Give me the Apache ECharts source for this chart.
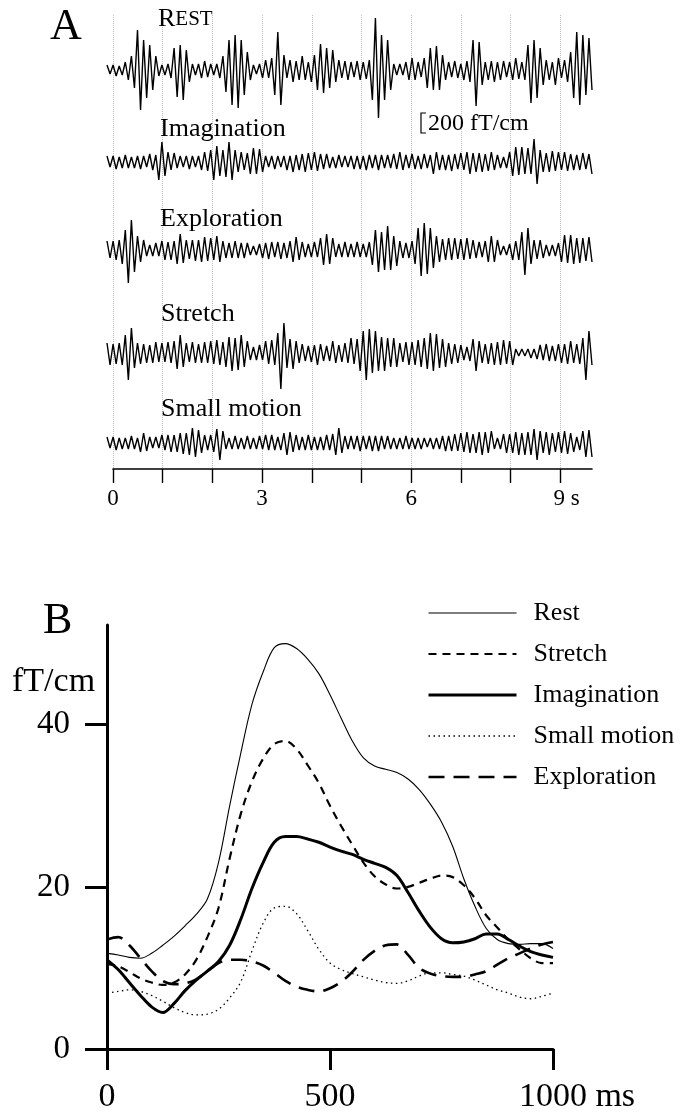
<!DOCTYPE html>
<html>
<head>
<meta charset="utf-8">
<script src="https://cdn.jsdelivr.net/npm/echarts@6.0.0/dist/echarts.min.js"></script>
<style>
  html, body { margin: 0; padding: 0; background: #fff; }
  #chart { width: 689px; height: 1113px; }
</style>
</head>
<body>
<div id="chart"></div>
<script>
const FONT = '"Liberation Serif", "Times New Roman", serif';

// Panel A: successive peaks / troughs of each gradiometer trace (fT/cm)
const restTrace = [
  50, -40, 50, -60, 40, -50,
  80, -100, 140,
  -180, 400, -400, 300, -280, 250, -200, 140,
  -60, 50, -50, 60, -80,
  220, -270, 250, -300, 200, -120,
  60, -50, 60, -80, 90, -70, 60, -50, 60, -80,
  140, -220, 300, -350, 350, -380, 300, -250, 180, -100,
  50, -40, 60, -80,
  100, -80, 120,
  -250, 380, -350, 150,
  -80, 100, -120, 90, -100, 140, -100, 80, -120, 150,
  -200, 260, -230, 220, -180, 200, -120,
  100, -80, 90, -100, 80, -70, 90, -100, 80, -90, 100,
  -300, 520, -480, 350, -300, 300, -200,
  60, -50, 60, -50, 80, -100,
  120, -100, 80, -70,
  120, -180, 220, -200, 240, -200, 150, -100,
  80, -70, 90, -80, 60, -100, 90, -120,
  300, -360, 280, -150,
  80, -100, 90, -120, 80, -100, 90, -70, 80, -100, 120, -90, 80, -100,
  250, -330, 300, -280, 220, -150, 100,
  -100, 80, -150, 120, -80, 100, -120, 180,
  -280, 380, -350, 350, -250, 320, -200,
];
const imaginationTrace = [
  60, -50, 60, -70, 50, -60, 70, -60, 50, -60, 60, -70, 60, -50,
  80, -80, 70,
  -180, 200, -140,
  100, -80, 90,
  -60, 60, -50, 60, -70, 60, -50, 60,
  -80, 100, -90,
  120, -180, 160, -140, 120,
  -150, 200, -180, 120, -100,
  100, -80, 90, -120,
  140, -120, 130, -100,
  60, -50, 60, -70, 60, -50, 60, -80, 60, -100, 70, -80,
  80, -100, 90, -80, 100, -90, 80, -70, 80,
  -60, 50, -60, 70, -50, 60, -50, 60, -70, 60,
  -70, 60, -80, 70, -60, 70, -80, 70, -60,
  70, -60, 80, -70, 100, -80, 70, -60, 80, -70,
  60, -70, 80, -60, 70, -120, 100, -80, 70,
  -80, 70, -90, 80, -70, 90, -80, 100, -120, 90,
  -100, 90, -100, 80, -90, 100, -80, 70,
  -60, 50, -60,
  100, -140, 150, -130, 150, -120, 140,
  -120, 230, -220, 120,
  -100, 90, -100, 110, -90, 100, -80, 100, -90, 80,
  -80, 70, -80, 90, -70, 80, -120,
];
const explorationTrace = [
  90, -80, 90, -100,
  100, -140,
  200, -330, 300, -220,
  140, -120, 100,
  -60, 50, -60, 70, -60,
  90, -100, 80, -100, 90,
  -140, 160, -130,
  100, -90, 100, -110, 100,
  -120, 130, -110, 120, -100,
  140, -120, 90,
  -80, 70, -80, 90, -80, 70, -80, 70,
  -50, 40, -50, 60,
  -80, 70, -90, 80, -70, 80, -90, 70, -80, 90,
  -120, 130, -100, 80,
  -70, 60, -70, 80, -70,
  120, -150, 160, -140, 120,
  -70, 60, -70, 80, -70, 60, -70, 80, -70, 60, -70, 80,
  -150, 200, -220, 180, -200, 240, -200,
  140, -160,
  90, -80, 70, -80, 90,
  -140, 220, -260, 270, -240, 220, -180, 140,
  -120, 110, -100, 120,
  -100, 120, -90, 110, -100, 120, -90, 100, -80,
  80, -70, 90,
  -120, 140, -120, 100,
  -50, 40, -50, 60,
  -100, 90, -100,
  180, -250, 220, -140,
  100, -90, 100, -80,
  50, -60, 50, -60, 70,
  -120, 150, -130, 150, -140, 120, -130,
  120, -110, 130, -120,
];
const stretchTrace = [
  100, -120, 90, -110, 100, -120,
  180, -270, 250, -150,
  100, -110, 90, -100, 80, -100, 110, -90,
  100, -90, 110, -100, 120,
  -160, 180, -140,
  100, -90, 110, -100, 90, -100, 110, -100,
  120, -110, 130, -120, 110,
  -140, 160, -180, 150, -170, 180, -140, 120,
  -70, 60, -70, 80, -70,
  120, -110, 130, -120, 200,
  -360, 300,
  -150, 140, -160, 120, -100, 90,
  -80, 70, -90, 80, -120, 90, -80, 70, -80, 120, -100, 80, -90, 100,
  -100, 150, -110,
  140, -180, 220, -270, 240, -200, 220, -180, 160, -180, 150, -140,
  150, -140, 100, -90, 110,
  -120, 110, -120, 130, -140,
  150, -160, 200, -180, 190, -150, 140,
  -140, 100, -110, 90, -100, 80,
  -70, 60, -80,
  140, -180, 120,
  -100, 90, -110, 100,
  -120, 110, -120, 130, -110, 120, -120,
  40, -30, 40, -30, 40, -50, 40, -60,
  80, -70, 90, -80, 70, -80, 90,
  -100, 90, -110, 120, -100, 90, -110,
  150, -270, 220, -120,
];
const smallMotionTrace = [
  60, -50, 60, -70, 50, -60, 50, -60, 70, -60, 50,
  -90, 100, -80,
  60, -50, 60, -50,
  80, -70, 80, -90, 80,
  -90, 100, -110, 100, -120,
  150, -140, 130, -100,
  80, -70, 80, -90,
  140, -170, 120,
  -60, 50, -60, 70, -60, 50, -60, 70, -60, 50, -60, 70, -60,
  80, -70, 80, -70, 60, -70,
  100, -120, 110, -90, 80,
  -70, 60, -70, 80, -70, 60, -70, 60, -70, 80, -70, 90,
  -120, 150, -100,
  70, -60, 70, -60, 70, -80, 70, -60, 70, -80, 70, -80, 70, -60, 70,
  -60, 50, -60, 50, -60, 70, -60, 50, -60, 50, -60,
  50, -40, 50, -60, 50, -60,
  70, -80, 70, -80, 90, -80,
  100, -90, 110, -100, 90, -100, 110,
  -120, 110, -100, 120,
  -60, 50, -60,
  90, -100, 90, -100,
  110, -120, 100, -120, 110, -120,
  140, -170, 120,
  -100, 110, -120, 100, -90, 110, -100, 120, -110, 100, -90,
  60, -70,
  120, -140, 130, -140,
];
const traceNames = ['Rest', 'Imagination', 'Exploration', 'Stretch', 'Small motion'];
const traces = [restTrace, imaginationTrace, explorationTrace, stretchTrace, smallMotionTrace];
const traceStart = -0.12; // s
const traceEnd = 9.64; // s
const secondTicks = [0, 1, 2, 3, 4, 5, 6, 7, 8, 9];
const secondLabels = [0, 3, 6, 9];

// Panel B: mean amplitude (fT/cm) against time (ms)
const timeMs = [
  0, 25, 50, 75, 100, 125, 150, 175, 200, 225, 250, 275, 300, 325, 350, 375, 400, 425, 450, 475,
  500, 525, 550, 575, 600, 625, 650, 675, 700, 725, 750, 775, 800, 825, 850, 875, 900, 925, 950, 975, 1000,
];
const restMean = [
  11.8, 11.6, 11.3, 11.2, 11.8, 12.8, 13.9, 15.2, 16.6, 18.5, 23, 30, 36.5, 42.5, 46.5, 49.5, 50, 49.4, 48.1, 46.3,
  43.7, 40.8, 38, 35.9, 34.9, 34.5, 34.1, 33.3, 32, 30.2, 28, 25, 21, 17.6, 14.9, 13.5, 13, 12.9, 13, 13, 12.4,
];
const stretchMean = [
  10.5, 10.2, 9.5, 8.7, 8.2, 7.9, 8.2, 9.2, 11, 13.8, 17.4, 23.5, 29, 33, 35.8, 37.6, 38, 37, 35, 32.8,
  30, 27.5, 25.2, 23, 21.3, 20.3, 19.8, 20, 20.5, 21, 21.4, 21.2, 20.2, 18.6, 16.5, 15, 13.5, 12.3, 11.2, 10.6, 10.6,
];
const imaginationMean = [
  11, 9.8, 8.2, 6.6, 5.2, 4.5, 5.6, 7.2, 8.5, 9.6, 10.8, 12.8, 16, 19.8, 23, 25.5, 26.2, 26.2, 25.9, 25.5,
  24.9, 24.4, 24, 23.4, 22.9, 22.4, 21.4, 19.3, 17, 15, 13.6, 13.1, 13.2, 13.6, 14.2, 14.2, 13.5, 12.7, 12, 11.6, 11.3,
];
const smallMotionMean = [
  6.9, 7.1, 7.3, 7.1, 6.6, 5.9, 5.1, 4.5, 4.2, 4.3, 4.9, 6.3, 8.3, 12.1, 15.5, 17.4, 17.6, 16.7, 14.6, 12.3,
  10.6, 9.8, 9.3, 8.9, 8.5, 8.2, 8.1, 8.4, 9, 9.4, 9.4, 9.2, 9, 8.5, 7.9, 7.3, 6.9, 6.4, 6.2, 6.5, 6.9,
];
const explorationMean = [
  13.5, 13.8, 12.8, 11.2, 9.6, 8.4, 8, 8.1, 8.6, 9.6, 10.6, 11, 11, 10.8, 10.3, 9.4, 8.4, 7.7, 7.3, 7.1,
  7.5, 8.3, 9.5, 11, 12.1, 12.8, 12.9, 11.6, 10, 9.3, 9, 8.9, 8.9, 9.2, 9.6, 10.4, 11.2, 11.8, 12.4, 12.9, 13.2,
];
const msTicks = [0, 500, 1000];
const fTTicks = [0, 20, 40];

const chart = echarts.init(document.getElementById('chart'), null, { renderer: 'canvas' });

const traceBase = [70, 162, 250, 353, 443];
const traceHalf = 60;
const grids = [];
const xAxes = [];
const yAxes = [];
const series = [];

traces.forEach((values, k) => {
  const step = (traceEnd - traceStart) / (values.length - 1);
  grids.push({
    left: 107, width: 485, top: traceBase[k] - traceHalf, height: traceHalf * 2, outerBoundsMode: 'none',
  });
  xAxes.push({ gridIndex: k, type: 'value', min: traceStart, max: traceEnd, show: false });
  yAxes.push({ gridIndex: k, type: 'value', min: -600, max: 600, show: false });
  series.push({
    name: `${traceNames[k]} trace`,
    type: 'line',
    xAxisIndex: k,
    yAxisIndex: k,
    data: values.map((v, i) => [traceStart + i * step, v]),
    symbol: 'none',
    silent: true,
    lineStyle: { color: '#000', width: 1.4 },
  });
});

// time axis of panel A, with dotted second lines
grids.push({
  left: 113, width: 479, top: 15, height: 454, outerBoundsMode: 'none',
});
xAxes.push({
  gridIndex: 5,
  type: 'value',
  min: 0,
  max: 9.64,
  interval: 1,
  axisLine: { lineStyle: { color: '#000', width: 1.6 } },
  axisTick: { customValues: secondTicks, length: 14, lineStyle: { color: '#000', width: 1.4 } },
  axisLabel: {
    customValues: secondLabels,
    margin: 18,
    color: '#000',
    fontFamily: FONT,
    fontSize: 23,
    formatter: (v) => (v === 9 ? '{pad| }9 s' : String(v)),
    rich: { pad: { width: 13, fontSize: 23 } },
  },
  splitLine: { show: true, lineStyle: { type: 'dotted', color: '#bdbdbd', width: 1 } },
});
yAxes.push({ gridIndex: 5, type: 'value', min: 0, max: 1, show: false });

// panel B
grids.push({
  left: 107, width: 446, top: 625, height: 424, outerBoundsMode: 'none',
});
xAxes.push({
  gridIndex: 6,
  type: 'value',
  min: 0,
  max: 1000,
  interval: 500,
  axisLine: { lineStyle: { color: '#000', width: 3 } },
  axisTick: { customValues: msTicks, length: 21, lineStyle: { color: '#000', width: 3 } },
  axisLabel: {
    customValues: msTicks,
    margin: 31,
    color: '#000',
    fontFamily: FONT,
    fontSize: 34,
    formatter: (v) => (v === 1000 ? '{pad| }1000 ms' : String(v)),
    rich: { pad: { width: 48, fontSize: 34 } },
  },
  splitLine: { show: false },
});
yAxes.push({
  gridIndex: 6,
  type: 'value',
  min: 0,
  max: 52.3,
  interval: 20,
  axisLine: { show: true, lineStyle: { color: '#000', width: 3 } },
  axisTick: { show: true, customValues: fTTicks, length: 22, lineStyle: { color: '#000', width: 3 } },
  axisLabel: {
    customValues: fTTicks,
    margin: 37,
    color: '#000',
    fontFamily: FONT,
    fontSize: 33,
  },
  splitLine: { show: false },
});

const meanSeries = [
  { name: 'Rest', values: restMean, lineStyle: { width: 1.1, type: 'solid' } },
  { name: 'Stretch', values: stretchMean, lineStyle: { width: 2.2, type: [8, 6] } },
  { name: 'Imagination', values: imaginationMean, lineStyle: { width: 3, type: 'solid' } },
  { name: 'Small motion', values: smallMotionMean, lineStyle: { width: 1.3, type: [1.5, 3.5] } },
  { name: 'Exploration', values: explorationMean, lineStyle: { width: 2.6, type: [16, 9] } },
];
meanSeries.forEach((s) => {
  series.push({
    name: s.name,
    type: 'line',
    xAxisIndex: 6,
    yAxisIndex: 6,
    smooth: 0.35,
    symbol: 'none',
    data: timeMs.map((t, i) => [t, s.values[i]]),
    lineStyle: { color: '#000', ...s.lineStyle },
    itemStyle: { color: '#000' },
  });
});

const option = {
  animation: false,
  backgroundColor: '#fff',
  grid: grids,
  xAxis: xAxes,
  yAxis: yAxes,
  legend: {
    data: meanSeries.map((s) => s.name),
    orient: 'vertical',
    left: 427,
    top: 600,
    padding: 0,
    itemWidth: 88,
    itemHeight: 26,
    itemGap: 15,
    selectedMode: false,
    itemStyle: { opacity: 0 },
    lineStyle: { width: 'inherit' },
    textStyle: { fontFamily: FONT, fontSize: 26, color: '#000', padding: [0, 0, 0, 12] },
  },
  series,
};
chart.setOption(option);

// scale bar height taken from the trace scale
const y0 = chart.convertToPixel({ yAxisIndex: 1 }, 0);
const y200 = chart.convertToPixel({ yAxisIndex: 1 }, 200);
const barH = Math.abs(y0 - y200);
const barTop = 113;

const textStyle = (text, size) => ({
  text, fontFamily: FONT, fontSize: size, fill: '#000', align: 'left', verticalAlign: 'middle',
});

chart.setOption({
  graphic: [
    { type: 'text', x: 50, y: 27, style: textStyle('A', 44) },
    { type: 'text', x: 43, y: 621, style: textStyle('B', 44) },
    {
      type: 'text',
      x: 158,
      y: 19,
      style: {
        ...textStyle('{a|R}{b|EST}', 26),
        rich: {
          a: { fontFamily: FONT, fontSize: 26, fill: '#000' },
          b: { fontFamily: FONT, fontSize: 21, fill: '#000' },
        },
      },
    },
    { type: 'text', x: 160, y: 129, style: textStyle('Imagination', 26) },
    { type: 'text', x: 160, y: 219, style: textStyle('Exploration', 26) },
    { type: 'text', x: 161, y: 314, style: textStyle('Stretch', 26) },
    { type: 'text', x: 161, y: 409, style: textStyle('Small motion', 26) },
    { type: 'text', x: 12, y: 682, style: textStyle('fT/cm', 34) },
    {
      type: 'polyline',
      shape: { points: [[426, barTop], [421, barTop], [421, barTop + barH], [426, barTop + barH]] },
      style: { stroke: '#000', lineWidth: 1.2, fill: null },
    },
    { type: 'text', x: 428, y: barTop + barH / 2 + 1, style: textStyle('200 fT/cm', 24) },
  ],
});
</script>
</body>
</html>
